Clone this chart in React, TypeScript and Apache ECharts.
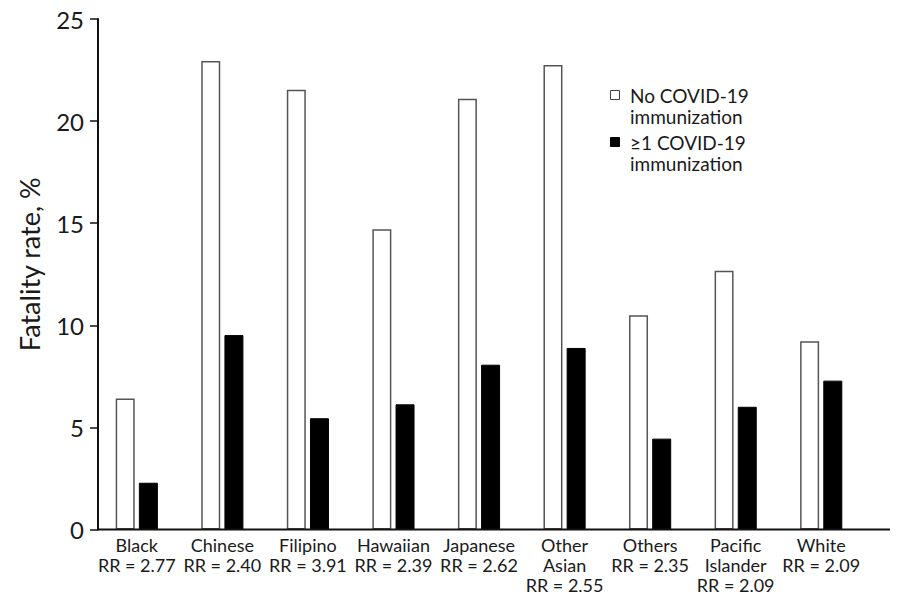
import React, { useEffect, useRef } from "react";
import * as echarts from "echarts";

const categories = ["Black", "Chinese", "Filipino", "Hawaiian", "Japanese", "Other\nAsian", "Others", "Pacific\nIslander", "White"];
const rrValues = ["2.77", "2.40", "3.91", "2.39", "2.62", "2.55", "2.35", "2.09", "2.09"];
const noImmunization = [6.41, 22.94, 21.54, 14.7, 21.1, 22.75, 10.49, 12.67, 9.22];
const atLeastOneImmunization = [2.29, 9.52, 5.45, 6.13, 8.07, 8.89, 4.45, 6.01, 7.29];
const seriesNames = ["No COVID-19\nimmunization", "\u22651 COVID-19\nimmunization"];
const yTicks = { min: 0, max: 25, interval: 5 };
const yTitle = "Fatality rate, %";

const FONT = "Lato, 'Open Sans', sans-serif";

export default function App() {
  const ref = useRef<HTMLDivElement>(null);
  useEffect(() => {
    if (!ref.current) return;
    const chart = echarts.init(ref.current, undefined, { renderer: "svg" });
    const labels = categories.map((c, i) => `${c}\nRR = ${rrValues[i]}`);
    chart.setOption({
      animation: false,
      backgroundColor: "#fff",
      textStyle: { fontFamily: FONT },
      grid: { left: 94, right: 36, top: 19, bottom: 69.5, containLabel: false },
      xAxis: {
        type: "category",
        data: labels,
        axisLine: { show: false },
        axisTick: { show: false },
        axisLabel: {
          interval: 0,
          color: "#1a1a1a",
          fontSize: 18,
          lineHeight: 20,
          margin: 5,
          fontFamily: FONT,
        },
      },
      yAxis: {
        type: "value",
        min: yTicks.min,
        max: yTicks.max,
        interval: yTicks.interval,
        offset: -4,
        name: yTitle,
        nameLocation: "middle",
        nameGap: 55,
        nameTextStyle: { fontSize: 27, color: "#1a1a1a", fontFamily: FONT, padding: [0, 0, 0, 20] },
        axisLine: { show: true, lineStyle: { color: "#111", width: 2 } },
        axisTick: { show: true, length: 8, lineStyle: { color: "#111", width: 1.5 } },
        axisLabel: { fontSize: 24, color: "#1a1a1a", margin: 14, fontFamily: FONT },
        splitLine: { show: false },
      },
      series: [
        {
          name: seriesNames[0],
          type: "bar",
          data: noImmunization,
          barWidth: 19,
          barGap: "22%",
          itemStyle: { color: "#fff", borderColor: "#555", borderWidth: 1.5 },
        },
        {
          name: seriesNames[1],
          type: "bar",
          data: atLeastOneImmunization,
          barWidth: 19,
          barGap: "22%",
          itemStyle: { color: "#000", borderColor: "#000", borderWidth: 1 },
        },
      ],
    });
    const y0 = chart.convertToPixel({ yAxisIndex: 0 }, 0) as number;
    chart.setOption({
      graphic: [
        { type: "line", shape: { x1: 97, y1: y0, x2: 890, y2: y0 }, style: { stroke: "#111", lineWidth: 2 }, z: 100 },
        { type: "rect", shape: { x: 610.5, y: 90.5, width: 9, height: 9 }, style: { fill: "#fff", stroke: "#444", lineWidth: 1 } },
        {
          type: "text",
          x: 630,
          y: 84.5,
          style: { text: seriesNames[0], fontSize: 19, lineHeight: 21, fill: "#1a1a1a", fontFamily: FONT, textVerticalAlign: "top" },
        },
        { type: "rect", shape: { x: 610.5, y: 137.5, width: 9, height: 9 }, style: { fill: "#000", stroke: "#000", lineWidth: 1 } },
        {
          type: "text",
          x: 630,
          y: 131.5,
          style: { text: seriesNames[1], fontSize: 19, lineHeight: 21, fill: "#1a1a1a", fontFamily: FONT, textVerticalAlign: "top" },
        },
      ],
    });
    return () => chart.dispose();
  }, []);
  return <div ref={ref} style={{ position: "fixed", left: 0, top: 0, width: 900, height: 599 }} />;
}
